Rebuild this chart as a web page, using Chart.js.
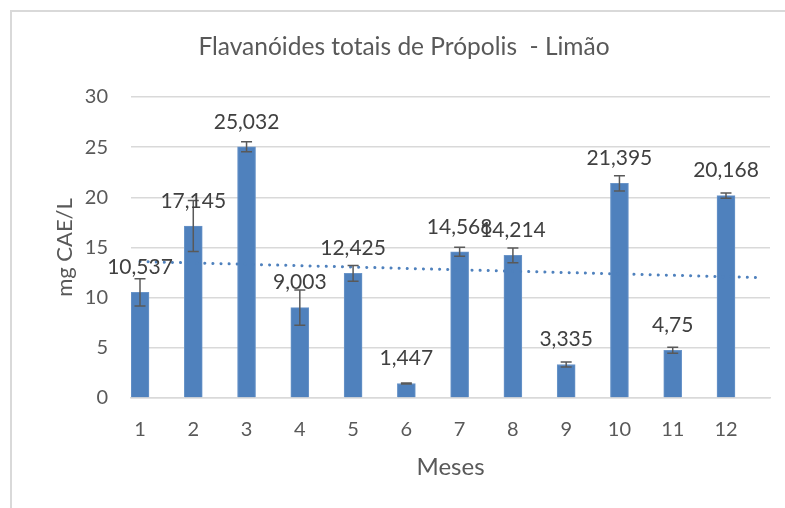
<!DOCTYPE html>
<html>
<head>
<meta charset="utf-8">
<script src="https://cdn.jsdelivr.net/npm/chart.js@4"></script>
<style>
  body { margin: 0; background: #fff; }
  #wrap { width: 785px; height: 508px; }
</style>
</head>
<body>
<div id="wrap"><canvas id="myChart" width="785" height="508"></canvas></div>
<script>
// dados
const meses = [1, 2, 3, 4, 5, 6, 7, 8, 9, 10, 11, 12];
const flavanoides = [10.537, 17.145, 25.032, 9.003, 12.425, 1.447, 14.568, 14.214, 3.335, 21.395, 4.75, 20.168];
const erros = [1.36, 2.55, 0.5, 1.76, 0.78, 0.05, 0.45, 0.73, 0.25, 0.76, 0.3, 0.27];
const yTicks = [0, 5, 10, 15, 20, 25, 30];
// linha de tendencia (pontas)
const tendX = [1, 12.65];
const tendY = [13.6, 12.0];

const cinza = '#595959';
const fonte = 'Lato, "Open Sans", sans-serif';

const frame = {
  id: 'frame',
  beforeDraw(chart) {
    const ctx = chart.ctx;
    ctx.save();
    ctx.fillStyle = '#fff';
    ctx.fillRect(0, 0, chart.width, chart.height);
    ctx.strokeStyle = '#d9d9d9';
    ctx.lineWidth = 2;
    ctx.strokeRect(11, 11, 800, 520);
    ctx.restore();
  }
};

const barrasErro = {
  id: 'barrasErro',
  afterDatasetsDraw(chart) {
    const ctx = chart.ctx;
    const x = chart.scales.x, y = chart.scales.y;
    ctx.save();
    ctx.strokeStyle = cinza;
    ctx.lineWidth = 1.5;
    meses.forEach((m, i) => {
      const px = x.getPixelForValue(m);
      const top = y.getPixelForValue(flavanoides[i] + erros[i]);
      const bot = y.getPixelForValue(flavanoides[i] - erros[i]);
      ctx.beginPath();
      ctx.moveTo(px, top); ctx.lineTo(px, bot);
      ctx.moveTo(px - 5.5, top); ctx.lineTo(px + 5.5, top);
      ctx.moveTo(px - 5.5, bot); ctx.lineTo(px + 5.5, bot);
      ctx.stroke();
    });
    // rotulos de dados
    ctx.fillStyle = '#404040';
    ctx.font = '21px ' + fonte;
    ctx.textAlign = 'center';
    ctx.textBaseline = 'middle';
    meses.forEach((m, i) => {
      const px = x.getPixelForValue(m);
      const py = y.getPixelForValue(flavanoides[i]) - 25;
      ctx.fillText(String(flavanoides[i]).replace('.', ','), px, py);
    });
    ctx.restore();
  }
};

const data = {
  datasets: [
    {
      type: 'line',
      label: 'Linear',
      data: tendX.map((v, i) => ({ x: v, y: tendY[i] })),
      borderColor: '#4f81bd',
      borderWidth: 3,
      borderDash: [0.1, 8],
      borderCapStyle: 'round',
      pointRadius: 0,
      fill: false,
      order: 0
    },
    {
      type: 'bar',
      label: 'Flavanóides',
      data: meses.map((m, i) => ({ x: m, y: flavanoides[i] })),
      backgroundColor: '#4f81bd',
      borderColor: '#6a95c9',
      borderWidth: 1,
      barThickness: 18,
      order: 1
    }
  ]
};

const config = {
  type: 'bar',
  data: data,
  options: {
    responsive: false,
    animation: false,
    layout: { padding: { left: 38, right: 15, top: 0, bottom: 0 } },
    plugins: {
      legend: { display: false },
      tooltip: { enabled: false },
      title: {
        display: true,
        text: 'Flavanóides totais de Própolis  - Limão',
        color: cinza,
        font: { family: fonte, size: 24.5, weight: 'normal' },
        padding: { top: 32, bottom: 35.6 }
      }
    },
    scales: {
      x: {
        type: 'linear',
        offset: false,
        min: 0.831,
        max: 12.826,
        afterBuildTicks: (s) => { s.ticks = meses.map(v => ({ value: v })); },
        afterFit: (s) => { s.height = 110; },
        grid: { display: false },
        border: { display: true, color: '#d9d9d9', width: 1.5 },
        ticks: {
          color: cinza,
          font: { family: fonte, size: 20 },
          padding: 12,
          autoSkip: false,
          maxRotation: 0
        },
        title: {
          display: true,
          text: 'Meses',
          color: cinza,
          font: { family: fonte, size: 24 },
          padding: { top: 0, bottom: 26 }
        }
      },
      y: {
        min: 0,
        max: 30,
        afterBuildTicks: (s) => { s.ticks = yTicks.map(v => ({ value: v })); },
        afterFit: (s) => { s.width = 93; },
        grid: { color: '#d9d9d9', lineWidth: 1.5, drawTicks: false },
        border: { display: false },
        ticks: {
          color: cinza,
          font: { family: fonte, size: 20 },
          padding: 23
        },
        title: {
          display: true,
          text: 'mg CAE/L',
          color: cinza,
          font: { family: fonte, size: 22 },
          padding: { top: 14, bottom: 0 }
        }
      }
    }
  },
  plugins: [frame, barrasErro]
};

var myChart = new Chart(document.getElementById('myChart'), config);
</script>
</body>
</html>
